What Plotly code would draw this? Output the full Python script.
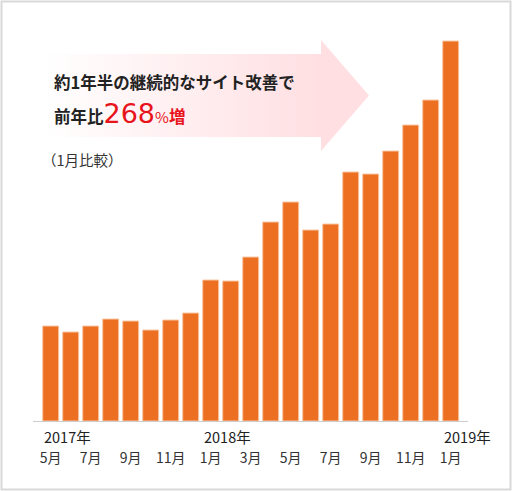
import base64
import plotly.graph_objects as go

# monthly values, 2017/5 - 2019/1 (relative scale)
months = ["2017-05", "2017-06", "2017-07", "2017-08", "2017-09", "2017-10", "2017-11", "2017-12",
          "2018-01", "2018-02", "2018-03", "2018-04", "2018-05", "2018-06", "2018-07", "2018-08",
          "2018-09", "2018-10", "2018-11", "2018-12", "2019-01"]
values = [95, 89, 95, 102, 100, 91, 101, 108, 141, 140, 164, 199, 219, 191, 197, 249,
          247, 270, 296, 321, 380]
tick_idx = [0, 2, 4, 6, 8, 10, 12, 14, 16, 18, 20]
tick_text = ["5月", "7月", "9月", "11月", "1月", "3月", "5月", "7月", "9月", "11月", "1月"]
year_idx = [0, 8, 20]
year_text = ["2017年", "2018年", "2019年"]

W, H = 512, 491
L, R, T, B = 33, 44, 21, 70
pw, ph = W - L - R, H - T - B


def px_x(x):
    return (x - L) / pw


def px_y(y):
    return (H - B - y) / ph


fig = go.Figure()
fig.add_trace(go.Bar(
    x=list(range(len(values))), y=values,
    marker=dict(color="#ED7022", line=dict(color="#F8C7A5", width=1)),
    width=0.8, hoverinfo="skip", text=months, textposition="none",
))

# pink gradient arrow behind the headline
svg = """<svg xmlns='http://www.w3.org/2000/svg' viewBox='0 0 327 111' preserveAspectRatio='none'>
<defs><linearGradient id='g' x1='0' y1='0' x2='1' y2='0'>
<stop offset='0' stop-color='#ffffff'/><stop offset='0.85' stop-color='#ffdfe2'/>
</linearGradient></defs>
<polygon points='0,14 279,14 279,0 327,55.5 279,111 279,97 0,97' fill='url(#g)'/></svg>"""
src = "data:image/svg+xml;base64," + base64.b64encode(svg.encode()).decode()
fig.add_layout_image(dict(source=src, xref="paper", yref="paper",
                          x=px_x(42), y=px_y(40), sizex=(369 - 42) / pw, sizey=111 / ph,
                          sizing="stretch", xanchor="left", yanchor="top", layer="below"))

jp = "Noto Sans CJK JP"
fig.add_annotation(text="<b>約1年半の継続的なサイト改善で</b>", xref="paper", yref="paper",
                   x=px_x(52), y=px_y(82), xanchor="left", yanchor="middle", showarrow=False,
                   font=dict(family=jp, size=16.5, color="#222"))
fig.add_annotation(text="<b>前年比</b><span style='color:#e8141c;font-size:27px;font-family:DejaVu Sans'>268</span>"
                        "<span style='color:#e8141c;font-size:15px'>%</span>"
                        "<b><span style='color:#e8141c'>増</span></b>",
                   xref="paper", yref="paper",
                   x=px_x(52), y=px_y(113), xanchor="left", yanchor="middle", showarrow=False,
                   font=dict(family=jp, size=16.5, color="#222"))
fig.add_annotation(text="（1月比較）", xref="paper", yref="paper",
                   x=px_x(40), y=px_y(159), xanchor="left", yanchor="middle", showarrow=False,
                   font=dict(family=jp, size=14.5, color="#333"))

for i, t in zip(year_idx, year_text):
    fig.add_annotation(text=t, x=i - 0.42, xref="x", y=px_y(436), yref="paper",
                       xanchor="left", yanchor="middle", showarrow=False,
                       font=dict(family=jp, size=14.5, color="#222"))

fig.update_layout(
    width=W, height=H, margin=dict(l=L, r=R, t=T, b=B),
    paper_bgcolor="white", plot_bgcolor="white", showlegend=False,
    xaxis=dict(range=[-0.885, 20.865], tickvals=tick_idx, ticktext=tick_text,
               showgrid=False, zeroline=False, showline=True, linecolor="#cccccc",
               linewidth=1, ticks="", ticklabelstandoff=24,
               tickfont=dict(family=jp, size=14, color="#333")),
    yaxis=dict(range=[0, ph], visible=False),
    shapes=[dict(type="rect", xref="paper", yref="paper",
                 x0=-L / pw + 1.5 / pw, x1=1 + (R - 1.5) / pw,
                 y0=-(B - 1.5) / ph, y1=1 + (T - 1.5) / ph,
                 line=dict(color="#d9d9d9", width=2))],
)

fig.write_html("out.html", config={"displayModeBar": False},
               post_script="document.body.style.margin='0';")
